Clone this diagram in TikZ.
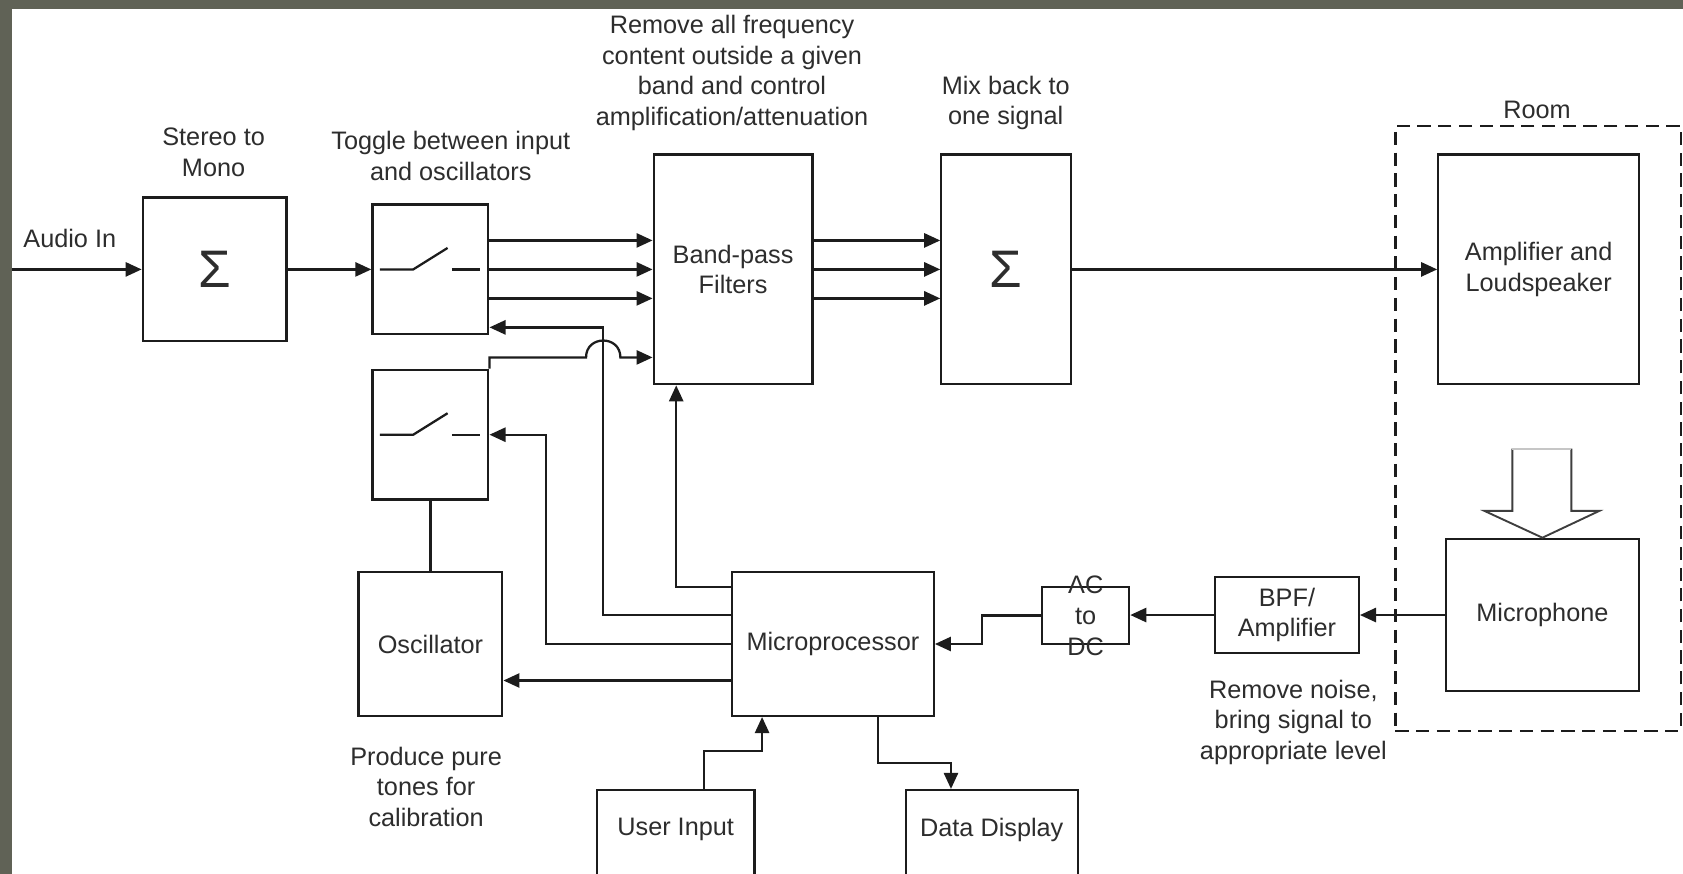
\documentclass[tikz,border=0pt]{standalone}
\usepackage{fontspec}
\setmainfont{Liberation Sans}
\usetikzlibrary{arrows.meta}
\definecolor{framegray}{RGB}{96,98,86}
\definecolor{ink}{RGB}{28,28,28}
\definecolor{txt}{RGB}{45,45,45}
\begin{document}
\begin{tikzpicture}[x=0.02cm,y=-0.02cm,
  every node/.style={font=\fontsize{13.4}{16.3}\selectfont, text=txt},
  wire/.style={draw=ink, line width=1.2pt},
  arr/.style={wire, -{Triangle[length=8.5pt,width=7.5pt]}},
  blk/.style={draw=ink, line width=1.2pt, fill=white, inner sep=0pt, align=center},
  lbl/.style={align=center, inner sep=0pt},
  sig/.style={font=\fontsize{28}{30}\selectfont}]
\useasboundingbox (0,0) rectangle (1568,814);
\fill[framegray] (0,0) rectangle (1568,814);
\fill[white] (11,8) rectangle (1568,814);

% room frame
\node[draw=ink, line width=1.2pt, dash pattern=on 7pt off 4pt, minimum width=5.32cm, minimum height=11.28cm, inner sep=0pt] (room) at (1433,399) {};
\node[lbl] (roomlbl) at (1432,102) {Room};

% blocks
\node[blk, sig, minimum width=2.68cm, minimum height=2.68cm] (stereo) at (200,251) {Σ};
\node[blk, minimum width=2.16cm, minimum height=2.42cm] (tog1) at (401,251) {};
\node[blk, minimum width=2.16cm, minimum height=2.42cm] (tog2) at (401,405) {};
\node[blk, minimum width=2.96cm, minimum height=4.28cm] (bpf) at (683,251) {Band-pass\\Filters};
\node[blk, sig, minimum width=2.42cm, minimum height=4.28cm] (mix) at (937.5,251) {Σ};
\node[blk, minimum width=3.74cm, minimum height=4.28cm] (amp) at (1433.5,251) {Amplifier and\\Loudspeaker};
\node[blk, minimum width=3.6cm, minimum height=2.84cm] (mic) at (1437,573) {Microphone};
\node[blk, minimum width=2.68cm, minimum height=1.42cm] (bpfamp) at (1199,573) {BPF/\\Amplifier};
\node[blk, minimum width=1.62cm, minimum height=1.06cm] (acdc) at (1011.5,573.5) {};
\node[lbl] (acdctxt) at (acdc.center) {AC\\to\\DC};
\node[blk, minimum width=3.76cm, minimum height=2.68cm] (micro) at (776,600) {Microprocessor};
\node[blk, minimum width=2.68cm, minimum height=2.68cm] (osc) at (401,600) {Oscillator};
\node[blk, anchor=north, minimum width=2.94cm, minimum height=3cm,
  label={[lbl,anchor=center,yshift=-0.76cm]north:User Input}] (user) at (629.5,735) {};
\node[blk, anchor=north, minimum width=3.2cm, minimum height=3cm,
  label={[lbl,anchor=center,yshift=-0.76cm]north:Data Display}] (data) at (924,735) {};

% switch symbols
\begin{scope}[shift={(tog1.center)}]
  \draw[wire] (-47,0) -- (-16,0) -- (16,-20);
  \draw[wire] (20,0) -- (46,0);
\end{scope}
\begin{scope}[shift={(tog2.center)}]
  \draw[wire] (-47,0) -- (-16,0) -- (16,-20);
  \draw[wire] (20,0) -- (46,0);
\end{scope}

% hollow arrow room -> microphone
\draw[draw=ink!85, line width=1pt, fill=white] (1409,418) -- (1409,476) -- (1383,476) -- (mic.north) -- (1490,476) -- (1464,476) -- (1464,418);
\draw[draw=ink!25, line width=1pt] (1409,418) -- (1464,418);

% annotations
\node[lbl] (ainlbl) at (65,222) {Audio In};
\node[lbl] (stlbl) at (199,142) {Stereo to\\Mono};
\node[lbl] (toglbl) at (420,145) {Toggle between input\\and oscillators};
\node[lbl] (bpflbl) at (682,68) {Remove all frequency\\content outside a given\\band and control\\amplification/attenuation};
\node[lbl] (mixlbl) at (937,96) {Mix back to\\one signal};
\node[lbl] (bpfalbl) at (1205,673) {Remove noise,\\bring signal to\\appropriate level};
\node[lbl] (osclbl) at (397,733) {Produce pure\\tones for\\calibration};

% connectors
\coordinate (ain) at (11,251);
\draw[arr] (ain) -- (stereo.west);
\draw[arr] (stereo.east) -- (tog1.west);
\foreach \yy in {224,251,278} {
  \draw[arr] (tog1.east |- 0,\yy) -- (bpf.west |- 0,\yy);
  \draw[arr] (bpf.east |- 0,\yy) -- (mix.west |- 0,\yy);
}
\draw[arr] (mix.east) -- (amp.west);
\draw[arr] (tog2.north east) -- (tog2.east |- 0,333) -- (546,333) .. controls (546,312) and (578,312) .. (578,333) -- (bpf.west |- 0,333);
\draw[arr] (micro.west |- 0,547) -| (bpf.south -| 630,0);
\draw[arr] (micro.west |- 0,573) -| (562,305) -- (tog1.east |- 0,305);
\draw[arr] (micro.west |- 0,600) -| (509,405) -- (tog2.east |- 0,405);
\draw[arr] (micro.west |- 0,634) -- (osc.east |- 0,634);
\draw[wire] (osc.north) -- (tog2.south);
\draw[arr] (mic.west) -- (bpfamp.east);
\draw[arr] (bpfamp.west) -- (acdc.east |- bpfamp.west);
\draw[arr] (acdc.west) -- ++(-55,0) |- (micro.east);
\draw[arr] (user.north -| 656,0) |- (710,700) -- (micro.south -| 710,0);
\draw[arr] (micro.south -| 818,0) |- (886,711) -- (data.north -| 886,0);
\end{tikzpicture}
\end{document}
